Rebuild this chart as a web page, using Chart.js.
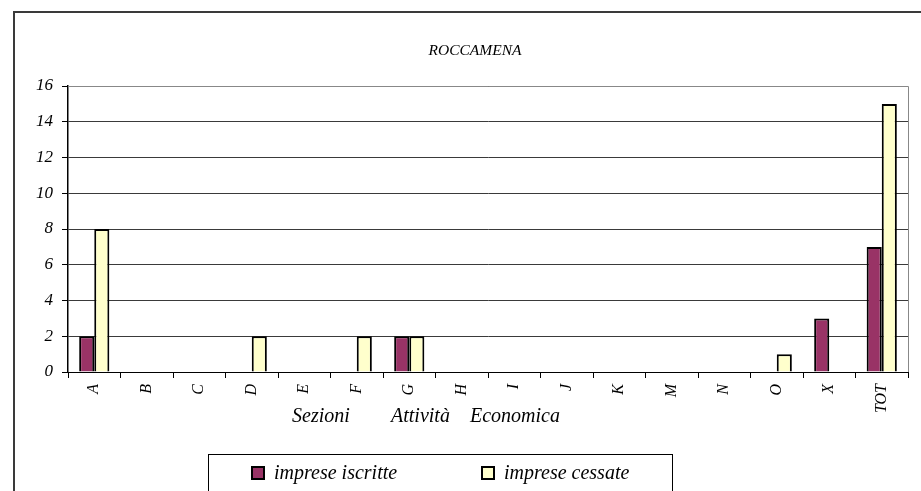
<!DOCTYPE html>
<html>
<head>
<meta charset="utf-8">
<script src="https://cdn.jsdelivr.net/npm/chart.js@4/dist/chart.umd.min.js"></script>
<style>
html,body{margin:0;padding:0;background:#fff;}
canvas{display:block;}
</style>
</head>
<body>
<canvas id="c" width="921" height="491"></canvas>
<script>
const chartTitle = 'ROCCAMENA';
const axisTitleWords = ['Sezioni', 'Attività', 'Economica'];
const categories = ['A','B','C','D','E','F','G','H','I','J','K','M','N','O','X','TOT'];
const iscritte = [2,0,0,0,0,0,2,0,0,0,0,0,0,0,3,7];
const cessate  = [8,0,0,2,0,2,2,0,0,0,0,0,0,1,0,15];
const seriesNames = ['imprese iscritte', 'imprese cessate'];
const yMin = 0, yMax = 16, yStep = 2;

const SERIF = '"Liberation Serif", "Times New Roman", serif';

const decor = {
  id: 'decor',
  beforeDraw(chart) {
    const ctx = chart.ctx;
    ctx.save();
    ctx.fillStyle = '#fff';
    ctx.fillRect(0, 0, chart.width, chart.height);
    ctx.strokeStyle = '#3a3a3a';
    ctx.lineWidth = 2;
    ctx.strokeRect(14, 12, 1200, 1200);
    ctx.restore();
  },
  afterDraw(chart) {
    const ctx = chart.ctx;
    const a = chart.chartArea;
    ctx.save();
    ctx.strokeStyle = '#888';
    ctx.lineWidth = 1;
    ctx.beginPath();
    ctx.moveTo(a.left, a.top + 0.5);
    ctx.lineTo(a.right + 0.5, a.top + 0.5);
    ctx.lineTo(a.right + 0.5, a.bottom);
    ctx.stroke();
    ctx.fillStyle = '#000';
    ctx.font = 'italic 15.5px ' + SERIF;
    ctx.textAlign = 'center';
    ctx.textBaseline = 'alphabetic';
    ctx.fillText(chartTitle, 475, 55);
    ctx.font = 'italic 20px ' + SERIF;
    ctx.textAlign = 'left';
    const wx = [292, 391, 470];
    axisTitleWords.forEach((w, i) => ctx.fillText(w, wx[i], 422));
    ctx.strokeStyle = '#000';
    ctx.lineWidth = 1;
    ctx.strokeRect(208.5, 454.5, 464, 40);
    const items = chart.data.datasets;
    const sx = [252, 482];
    items.forEach((ds, i) => {
      ctx.fillStyle = ds.backgroundColor;
      ctx.fillRect(sx[i], 467, 12, 12);
      ctx.strokeStyle = '#000';
      ctx.lineWidth = 2;
      ctx.strokeRect(sx[i], 467, 12, 12);
      ctx.fillStyle = '#000';
      ctx.font = 'italic 20px ' + SERIF;
      ctx.textAlign = 'left';
      ctx.fillText(ds.label, sx[i] + 22, 479);
    });
    ctx.restore();
  }
};

new Chart(document.getElementById('c'), {
  type: 'bar',
  data: {
    labels: categories,
    datasets: [
      { label: seriesNames[0], data: iscritte, backgroundColor: '#993366', borderColor: '#000', borderWidth: 2 },
      { label: seriesNames[1], data: cessate, backgroundColor: '#FFFFCC', borderColor: '#000', borderWidth: 2 }
    ]
  },
  options: {
    responsive: false,
    animation: false,
    events: [],
    layout: { padding: { left: 0, top: 86, right: 13, bottom: 0 } },
    datasets: { bar: { categoryPercentage: 0.575, barPercentage: 1.0 } },
    plugins: { legend: { display: false }, title: { display: false }, tooltip: { enabled: false } },
    scales: {
      x: {
        afterFit(scale) { scale.height = 119; },
        grid: { drawOnChartArea: false, drawTicks: true, tickLength: 6, color: '#000', offset: true },
        border: { color: '#000', width: 1 },
        ticks: {
          minRotation: 90, maxRotation: 90, autoSkip: false, padding: 6,
          color: '#000', font: { family: SERIF, style: 'italic', size: 16 }
        }
      },
      y: {
        min: yMin, max: yMax,
        afterFit(scale) { scale.width = 68; },
        grid: { color: '#3a3a3a', tickColor: '#000', tickLength: 6, drawTicks: true },
        border: { color: '#000', width: 1.5 },
        ticks: {
          stepSize: yStep, padding: 9, color: '#000',
          font: { family: SERIF, style: 'italic', size: 17 }
        }
      }
    }
  },
  plugins: [decor]
});
</script>
</body>
</html>
